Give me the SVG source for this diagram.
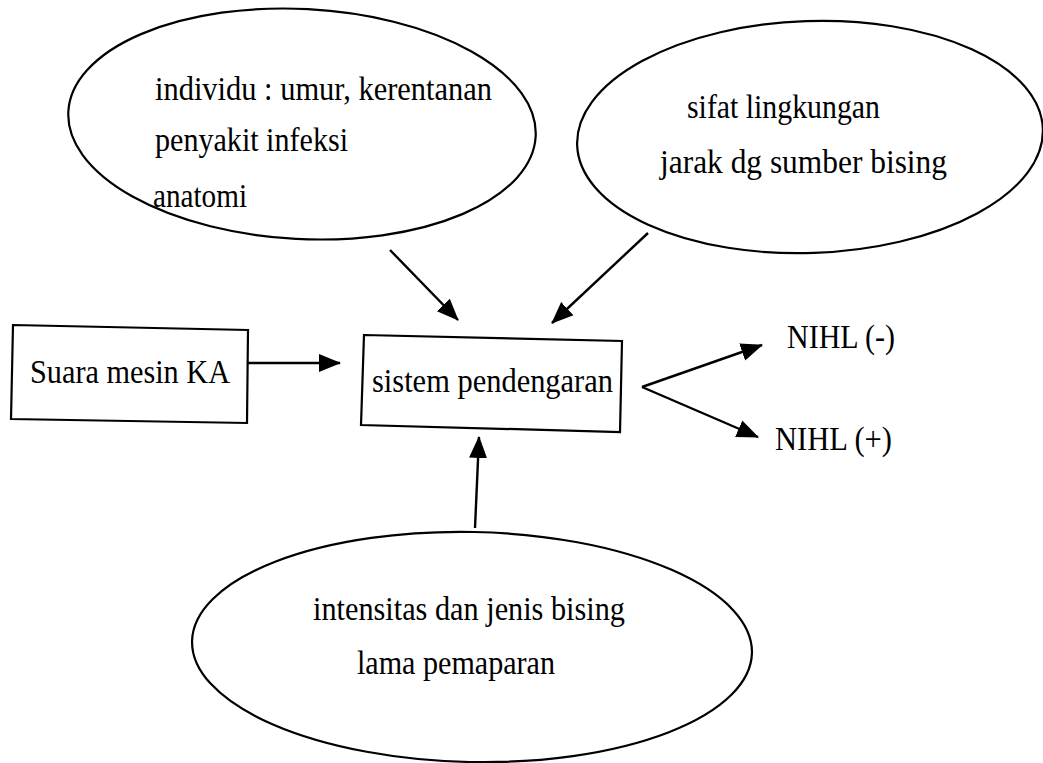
<svg xmlns="http://www.w3.org/2000/svg" width="1043" height="763" viewBox="0 0 1043 763">
<style>
.sh{fill:none;stroke:#000;stroke-width:2.2}
.t{font-family:"Liberation Serif","Times New Roman",serif;font-size:33px;fill:#000}
.c{fill:none;stroke:#000;stroke-width:2.4}
</style>
<defs>
<marker id="ah" markerUnits="userSpaceOnUse" markerWidth="22" markerHeight="20" refX="21" refY="10" orient="auto">
<path d="M0,1 L22,10 L0,19 z" fill="#000"/>
</marker>
</defs>
<rect width="1043" height="763" fill="#fff"/>
<g id="individu">
<ellipse class="sh" cx="302" cy="124" rx="234" ry="115" transform="rotate(3 302 124)"/>
<text class="t" x="155" y="100" textLength="337" lengthAdjust="spacingAndGlyphs">individu : umur, kerentanan</text>
<text class="t" x="155" y="151" textLength="193" lengthAdjust="spacingAndGlyphs">penyakit infeksi</text>
<text class="t" x="153" y="207" textLength="94" lengthAdjust="spacingAndGlyphs">anatomi</text>
</g>
<g id="lingkungan">
<ellipse class="sh" cx="810" cy="137" rx="233" ry="116" transform="rotate(-2 810 137)"/>
<text class="t" x="687" y="118" textLength="193" lengthAdjust="spacingAndGlyphs">sifat lingkungan</text>
<text class="t" x="660" y="173" textLength="287" lengthAdjust="spacingAndGlyphs">jarak dg sumber bising</text>
</g>
<g id="suara">
<path class="sh" d="M13,325 L248,330 L247,423 L11,419 z"/>
<text class="t" x="30" y="383" textLength="200" lengthAdjust="spacingAndGlyphs">Suara mesin KA</text>
</g>
<g id="sistem">
<path class="sh" d="M364,335 L622,341 L620,432 L361,425 z"/>
<text class="t" x="372" y="392" textLength="241" lengthAdjust="spacingAndGlyphs">sistem pendengaran</text>
</g>
<g id="nihl-neg">
<text class="t" x="787" y="348" textLength="108" lengthAdjust="spacingAndGlyphs">NIHL (-)</text>
</g>
<g id="nihl-pos">
<text class="t" x="775" y="450" textLength="117" lengthAdjust="spacingAndGlyphs">NIHL (+)</text>
</g>
<g id="intensitas">
<ellipse class="sh" cx="472" cy="647" rx="280" ry="115" transform="rotate(1.2 472 647)"/>
<text class="t" x="313" y="620" textLength="312" lengthAdjust="spacingAndGlyphs">intensitas dan jenis bising</text>
<text class="t" x="357" y="674" textLength="198" lengthAdjust="spacingAndGlyphs">lama pemaparan</text>
</g>
<g id="connectors">
<line class="c" x1="248" y1="363" x2="340" y2="363" marker-end="url(#ah)"/>
<line class="c" x1="390" y1="250" x2="458" y2="320" marker-end="url(#ah)"/>
<line class="c" x1="648" y1="233" x2="552" y2="323" marker-end="url(#ah)"/>
<line class="c" x1="475" y1="528" x2="479" y2="437" marker-end="url(#ah)"/>
<line class="c" x1="642" y1="387" x2="762" y2="345" marker-end="url(#ah)"/>
<line class="c" x1="642" y1="387" x2="758" y2="437" marker-end="url(#ah)"/>
</g>
</svg>
